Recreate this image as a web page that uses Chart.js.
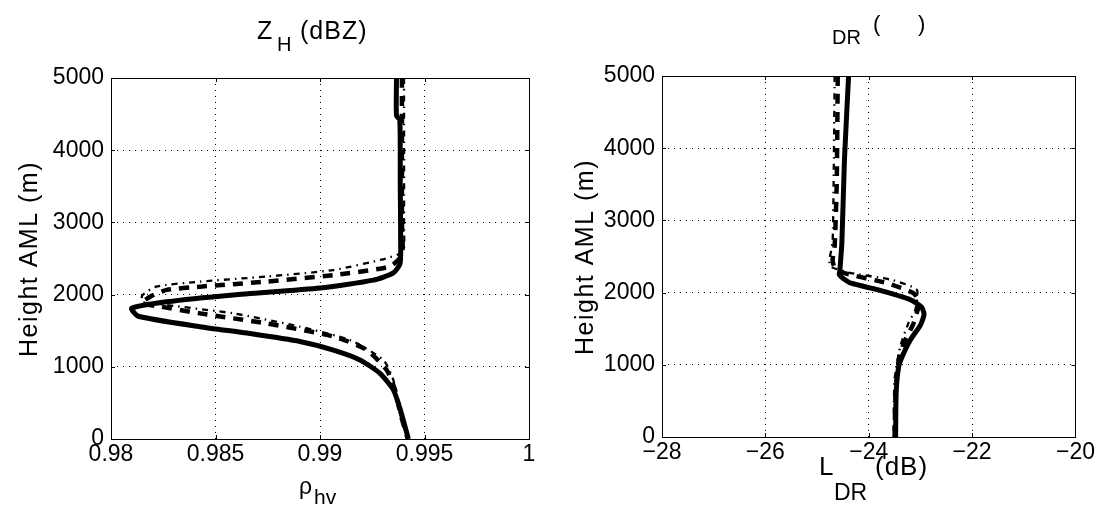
<!DOCTYPE html>
<html>
<head>
<meta charset="utf-8">
<script src="https://cdn.jsdelivr.net/npm/chart.js@4.4.1/dist/chart.umd.min.js"></script>
<style>
  html, body { margin: 0; padding: 0; background: #fff; }
  #wrap { position: relative; width: 1097px; height: 506px; overflow: hidden; }
  canvas { position: absolute; top: 0; }
</style>
</head>
<body>
<div id="wrap">
  <canvas id="rhoChart" width="548" height="506" style="left:0"></canvas>
  <canvas id="ldrChart" width="549" height="506" style="left:548px"></canvas>
</div>
<script>
// ---- axes ----
const heightTicks = [0, 1000, 2000, 3000, 4000, 5000];
const heightLabels = ['0', '1000', '2000', '3000', '4000', '5000'];
const rhoTicks = [0.98, 0.985, 0.99, 0.995, 1];
const rhoLabels = ['0.98', '0.985', '0.99', '0.995', '1'];
const ldrTicks = [-28, -26, -24, -22, -20];
const ldrLabels = ['\u221228', '\u221226', '\u221224', '\u221222', '\u221220'];

// ---- rho_hv profiles (height in m) ----
const rhoSolidH = [5000, 4480, 4420, 3500, 2700, 2430, 2300, 2200, 2090, 1995, 1900, 1810, 1700, 1555, 1460, 1350, 1230, 1095, 910, 680, 400, 0];
const rhoSolid  = [0.99366, 0.99366, 0.99382, 0.99384, 0.99386, 0.99383, 0.99351, 0.99255, 0.9900, 0.98585, 0.98266, 0.98099, 0.98131, 0.98426, 0.98665, 0.98904, 0.99064, 0.99191, 0.99287, 0.99351, 0.99385, 0.99423];
const rhoDashH  = [5000, 3000, 2550, 2390, 2270, 2180, 2110, 2065, 1970, 1880, 1835, 1740, 1600, 1420, 1235, 955, 680, 350, 0];
const rhoDash   = [0.99392, 0.99392, 0.99392, 0.99335, 0.99064, 0.98745, 0.98426, 0.98266, 0.98187, 0.98147, 0.98234, 0.98426, 0.98745, 0.99064, 0.99223, 0.99319, 0.99359, 0.99385, 0.99420];
const rhoDotH   = [5000, 2900, 2600, 2500, 2340, 2250, 2180, 2110, 1990, 1900, 1855, 1740, 1555, 1370, 1095, 815, 400, 0];
const rhoDot    = [0.99402, 0.99402, 0.99398, 0.99315, 0.99064, 0.98745, 0.98426, 0.98215, 0.98150, 0.98150, 0.98266, 0.98585, 0.98904, 0.99144, 0.99303, 0.99351, 0.99378, 0.99420];

// ---- L_DR profiles (height in m) ----
const ldrSolidH = [5000, 3840, 2690, 2300, 2250, 2200, 2130, 2040, 1900, 1800, 1700, 1550, 1350, 1120, 980, 610, 0];
const ldrSolid  = [-24.39, -24.47, -24.52, -24.56, -24.57, -24.50, -24.34, -23.83, -23.19, -22.98, -22.93, -23.00, -23.19, -23.35, -23.42, -23.47, -23.48];
const ldrDashH  = [5000, 3500, 2640, 2450, 2350, 2270, 2130, 1990, 1855, 1580, 1300, 1070, 610, 0];
const ldrDash   = [-24.60, -24.62, -24.66, -24.70, -24.66, -24.47, -23.64, -23.13, -23.03, -23.13, -23.32, -23.42, -23.48, -23.50];
const ldrDotH   = [5000, 3500, 2700, 2450, 2360, 2270, 2180, 2040, 1760, 1580, 1255, 795, 0];
const ldrDot    = [-24.66, -24.68, -24.70, -24.76, -24.74, -24.34, -23.58, -23.07, -23.10, -23.23, -23.39, -23.50, -23.52];

const FONT = '"Liberation Sans", Arial, Helvetica, sans-serif';

function pts(h, v) {
  return h.map((y, i) => ({ x: v[i], y: y }));
}

// draws pieces of text (with subscripts) at fixed spots
function drawParts(ctx, parts) {
  ctx.save();
  ctx.fillStyle = '#000';
  ctx.textBaseline = 'alphabetic';
  ctx.textAlign = 'left';
  parts.forEach(p => {
    ctx.font = p.s + 'px ' + FONT;
    ctx.letterSpacing = (p.ls || 0) + 'px';
    ctx.fillText(p.t, p.x, p.y);
  });
  ctx.restore();
}

// box, inward ticks and all titles
const framePlugin = {
  id: 'frame',
  afterDraw(chart, args, opts) {
    const ctx = chart.ctx;
    const a = chart.chartArea;
    const xs = chart.scales.x, ys = chart.scales.y;
    ctx.save();
    ctx.strokeStyle = '#000';
    ctx.lineWidth = 1;
    ctx.beginPath();
    opts.xTicks.forEach(v => {
      const px = Math.round(xs.getPixelForValue(v)) + 0.5;
      ctx.moveTo(px, a.bottom); ctx.lineTo(px, a.bottom - 4);
      ctx.moveTo(px, a.top); ctx.lineTo(px, a.top + 4);
    });
    heightTicks.forEach(v => {
      const py = Math.round(ys.getPixelForValue(v)) + 0.5;
      ctx.moveTo(a.left, py); ctx.lineTo(a.left + 4, py);
      ctx.moveTo(a.right, py); ctx.lineTo(a.right - 4, py);
    });
    ctx.stroke();
    ctx.strokeRect(Math.round(a.left) + 0.5, Math.round(a.top) + 0.5,
                   Math.round(a.right - a.left), Math.round(a.bottom - a.top));
    ctx.restore();

    drawParts(ctx, opts.title);
    drawParts(ctx, opts.xTitle);

    const yt = opts.yTitle;
    ctx.save();
    ctx.translate(yt.x, yt.cy);
    ctx.rotate(-Math.PI / 2);
    ctx.font = yt.s + 'px ' + FONT;
    ctx.letterSpacing = yt.ls + 'px';
    ctx.fillStyle = '#000';
    ctx.textAlign = 'center';
    ctx.textBaseline = 'alphabetic';
    ctx.fillText(yt.t, 0, 0);
    ctx.restore();
  }
};

function lineSet(data, width, dash) {
  return {
    data: data,
    showLine: true,
    borderColor: '#000',
    backgroundColor: '#000',
    borderWidth: width,
    borderDash: dash,
    pointRadius: 0,
    tension: 0.2,
    fill: false
  };
}

function makeChart(id, c) {
  return new Chart(document.getElementById(id), {
    type: 'scatter',
    data: {
      datasets: [
        lineSet(c.dot, 2.3, [6, 5, 1.5, 5]),
        lineSet(c.dash, 4.5, [10, 8]),
        lineSet(c.solid, 5, [])
      ]
    },
    options: {
      responsive: false,
      animation: false,
      layout: { padding: { left: 0, right: c.padRight, top: c.padTop, bottom: 0 } },
      plugins: {
        legend: { display: false },
        tooltip: { enabled: false },
        frame: c.frame
      },
      scales: {
        x: {
          type: 'linear',
          min: c.xMin,
          max: c.xMax,
          afterFit(s) { s.height = c.xAxisH; },
          afterBuildTicks(s) { s.ticks = c.xTicks.map(v => ({ value: v })); },
          ticks: {
            callback: (v, i) => c.xLabels[i],
            font: { family: FONT, size: 23 },
            color: '#000',
            padding: 2,
            maxRotation: 0,
            autoSkip: false
          },
          grid: { color: '#000', lineWidth: 1, drawTicks: false },
          border: { display: false, dash: [1, 5] }
        },
        y: {
          type: 'linear',
          min: 0,
          max: 5000,
          afterFit(s) { s.width = c.yAxisW; },
          afterBuildTicks(s) { s.ticks = heightTicks.map(v => ({ value: v })); },
          ticks: {
            callback: (v, i) => heightLabels[i],
            font: { family: FONT, size: 23 },
            color: '#000',
            padding: 7,
            autoSkip: false
          },
          grid: { color: '#000', lineWidth: 1, drawTicks: false },
          border: { display: false, dash: [1, 5] }
        }
      }
    },
    plugins: [framePlugin]
  });
}

// left panel: co-polar correlation
makeChart('rhoChart', {
  solid: pts(rhoSolidH, rhoSolid),
  dash: pts(rhoDashH, rhoDash),
  dot: pts(rhoDotH, rhoDot),
  xMin: 0.98, xMax: 1, xTicks: rhoTicks, xLabels: rhoLabels,
  padTop: 78, padRight: 19, xAxisH: 67, yAxisW: 111,
  frame: {
    xTicks: rhoTicks,
    title: [
      { t: 'Z', x: 257, y: 39, s: 25 },
      { t: 'H', x: 277, y: 51, s: 20 },
      { t: '(dBZ)', x: 300, y: 39, s: 25, ls: 1 }
    ],
    xTitle: [
      { t: '\u03C1', x: 299, y: 494, s: 23 },
      { t: 'hv', x: 314, y: 504, s: 21 }
    ],
    yTitle: { t: 'Height AML (m)', x: 37, cy: 259, s: 25, ls: 1.5 }
  }
});

// right panel: linear depolarization ratio
makeChart('ldrChart', {
  solid: pts(ldrSolidH, ldrSolid),
  dash: pts(ldrDashH, ldrDash),
  dot: pts(ldrDotH, ldrDot),
  xMin: -28, xMax: -20, xTicks: ldrTicks, xLabels: ldrLabels,
  padTop: 76, padRight: 17, xAxisH: 69, yAxisW: 114,
  frame: {
    xTicks: ldrTicks,
    title: [
      { t: 'DR', x: 284, y: 44, s: 20 },
      { t: '(', x: 325, y: 31, s: 22 },
      { t: ')', x: 370, y: 31, s: 22 }
    ],
    xTitle: [
      { t: 'L', x: 271, y: 475, s: 26 },
      { t: 'DR', x: 286, y: 500, s: 23 },
      { t: '(dB)', x: 327, y: 475, s: 26, ls: 1 }
    ],
    yTitle: { t: 'Height AML (m)', x: 45, cy: 257, s: 25, ls: 1.5 }
  }
});
</script>
</body>
</html>
